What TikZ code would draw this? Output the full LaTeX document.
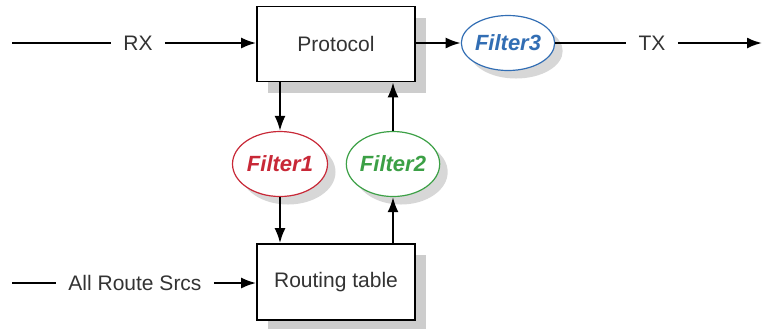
\documentclass[tikz,border=0pt]{standalone}
\usepackage{fontspec}
\setmainfont{Liberation Sans}
\usetikzlibrary{shapes.geometric,shadows,arrows.meta}
\definecolor{filterred}{RGB}{200,40,55}
\definecolor{filtergreen}{RGB}{60,160,70}
\definecolor{filterblue}{RGB}{50,110,180}
\definecolor{shadowgray}{RGB}{205,205,205}
\tikzset{
  block/.style={shape=rectangle,draw=black,fill=white,line width=0.8pt,
    minimum width=79pt,minimum height=37.5pt,
    font=\fontsize{10.5}{12}\selectfont,text=black!80,
    drop shadow={shadow xshift=5.5pt,shadow yshift=-5.5pt,fill=shadowgray,opacity=1}},
  filter/.style={shape=ellipse,draw=#1,fill=white,text=#1,line width=0.6pt,inner sep=0pt,
    font=\fontsize{11}{13}\selectfont\bfseries\itshape,
    drop shadow={shadow xshift=4pt,shadow yshift=-4pt,fill=shadowgray!80,opacity=1}},
  sigtext/.style={inner sep=6pt,font=\fontsize{10.5}{12}\selectfont,text=black!80},
  wire/.style={line width=1.1pt},
  flow/.style={line width=1.1pt,-{Latex[length=7.5pt,width=5.5pt]}},
}
\begin{document}
\begin{tikzpicture}[x=0.5pt,y=-0.5pt]
    \useasboundingbox (0,0) rectangle (763,328);
    % boxes
    \node[block] (proto) at (336,44) {Protocol};
    \node[block,minimum height=38pt] (rtable) at (336,282) {Routing table};
    % filters
    \node[filter=filterred,minimum width=47.5pt,minimum height=32.5pt] (f1) at (280,164) {Filter1};
    \node[filter=filtergreen,minimum width=46pt,minimum height=32.5pt] (f2) at (393,164) {Filter2};
    \node[filter=filterblue,minimum width=46.5pt,minimum height=27.5pt] (f3) at (508,43) {Filter3};
    % signal texts
    \coordinate (rxin) at (12,43);
    \node[sigtext] (rx) at (138,43) {RX};
    \node[sigtext] (tx) at (652,43) {TX};
    \coordinate (txout) at (762,43);
    \coordinate (srcin) at (12,283);
    \node[sigtext] (srcs) at (135,283) {All Route Srcs};
    % connectors
    \path [wire] (rxin) edge (rx);
    \path [flow] (rx) edge (rx -| proto.west);
    \path [flow] (proto.east |- f3) edge (f3);
    \path [wire] (f3) edge (tx);
    \path [flow] (tx) edge (txout);
    \path [wire] (srcin) edge (srcs);
    \path [flow] (srcs) edge (srcs -| rtable.west);
    \path [flow] (proto.south -| f1) edge (f1);
    \path [flow] (f1) edge (f1 |- rtable.north);
    \path [flow] (rtable.north -| f2) edge (f2);
    \path [flow] (f2) edge (f2 |- proto.south);
\end{tikzpicture}
\end{document}
